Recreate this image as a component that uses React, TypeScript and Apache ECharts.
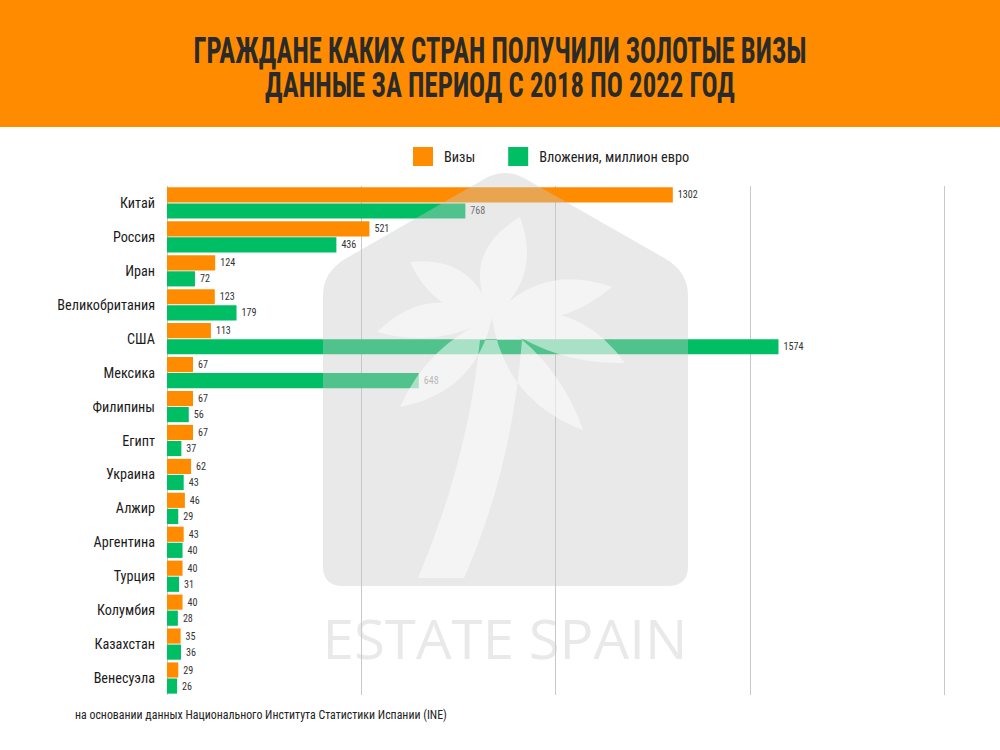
import React, { useEffect, useRef } from "react";
import * as echarts from "echarts";

const countries = [
  "Китай", "Россия", "Иран", "Великобритания", "США", "Мексика", "Филипины", "Египт",
  "Украина", "Алжир", "Аргентина", "Турция", "Колумбия", "Казахстан", "Венесуэла",
];
const visas = [1302, 521, 124, 123, 113, 67, 67, 67, 62, 46, 43, 40, 40, 35, 29];
const investment = [768, 436, 72, 179, 1574, 648, 56, 37, 43, 29, 40, 31, 28, 36, 26];
const seriesNames = ["Визы", "Вложения, миллион евро"];
const titleLines = [
  "ГРАЖДАНЕ КАКИХ СТРАН ПОЛУЧИЛИ ЗОЛОТЫЕ ВИЗЫ",
  "ДАННЫЕ ЗА ПЕРИОД С 2018 ПО 2022 ГОД",
];
const sourceNote = "на основании данных Национального Института Статистики Испании (INE)";
const watermarkText = "ESTATE SPAIN";
const xMin = 0;
const xMax = 2000;
const xStep = 500;

const ORANGE = "#FF8C00";
const GREEN = "#00BE64";

function measure(text: string, font: string): number {
  const c = document.createElement("canvas").getContext("2d")!;
  c.font = font;
  return c.measureText(text).width;
}

function hasFont(name: string): boolean {
  const probe = "Великобритания Wmwi 1302";
  for (const base of ["monospace", "serif"]) {
    if (Math.abs(measure(probe, `40px '${name}', ${base}`) - measure(probe, `40px ${base}`)) > 0.5) return true;
  }
  return false;
}

function pickCondensed(): string {
  const candidates = [
    "Roboto Condensed", "Liberation Sans Narrow", "DejaVu Sans Condensed",
    "Noto Sans Condensed", "Open Sans Condensed", "Arial Narrow",
  ];
  for (const c of candidates) if (hasFont(c)) return `'${c}', Roboto, sans-serif`;
  return "Roboto, 'Noto Sans', sans-serif";
}

function fitSize(text: string, family: string, target: number, maxSize: number, minSize: number): number {
  const w = measure(text, `100px ${family}`);
  const s = (100 * target) / w;
  return Math.max(minSize, Math.min(maxSize, Math.round(s * 10) / 10));
}

function leaf(bx: number, by: number, tx: number, ty: number, w: number, bend: number): string {
  const dx = tx - bx, dy = ty - by;
  const len = Math.hypot(dx, dy);
  const nx = -dy / len, ny = dx / len;
  const mx = bx + dx * 0.5, my = by + dy * 0.5;
  const c1x = mx + nx * (w + bend), c1y = my + ny * (w + bend);
  const c2x = mx + nx * (-w + bend), c2y = my + ny * (-w + bend);
  return `M ${bx} ${by} Q ${c1x} ${c1y} ${tx} ${ty} Q ${c2x} ${c2y} ${bx} ${by} Z `;
}

const housePath =
  "M 323 296 L 323 566 Q 323 586 343 586 L 668 586 Q 688 586 688 566 L 688 296 Q 688 272 666 259 L 524 178 Q 505 168 486 178 L 345 259 Q 323 272 323 296 Z";

const palmPath =
  leaf(492, 318, 520, 217, 44, -6) +
  leaf(492, 318, 410, 262, 36, 6) +
  leaf(492, 318, 612, 287, 36, -6) +
  leaf(492, 318, 377, 332, 34, 10) +
  leaf(492, 318, 625, 363, 38, -12) +
  leaf(492, 318, 400, 407, 34, -8) +
  leaf(492, 318, 583, 430, 34, 8) +
  "M 480 340 L 522 340 Q 512 470 464 578 L 418 578 Q 468 460 480 340 Z";

let registered = false;
function registerShapes() {
  if (registered) return;
  registered = true;
  echarts.graphic.registerShape("house", echarts.graphic.extendPath(housePath, {}) as any);
  echarts.graphic.registerShape("palm", echarts.graphic.extendPath(palmPath, {}) as any);
}

export default function App() {
  const ref = useRef<HTMLDivElement>(null);

  useEffect(() => {
    if (!ref.current) return;
    registerShapes();
    const chart = echarts.init(ref.current, null, { renderer: "svg" });

    const COND = pickCondensed();
    const axisSize = fitSize("Великобритания", COND, 98, 17, 12);
    const legendSize = fitSize(seriesNames[1], COND, 150, 16, 11);
    const valueSize = fitSize("1302", COND, 20, 11.5, 9.5);

    const titleFont = `bold 36px ${COND}`;
    const t1Scale = 613 / measure(titleLines[0], titleFont);
    const t2Scale = 470 / measure(titleLines[1], titleFont);
    const wmFont = `400 54px 'Open Sans', sans-serif`;
    const wmScale = 365 / measure(watermarkText, wmFont);
    const noteFont = `13px ${COND}`;
    const noteScale = 372 / measure(sourceNote, noteFont);

    const labelStyle = {
      show: true,
      position: "right" as const,
      distance: 5,
      fontSize: valueSize,
      color: "#333",
      fontFamily: COND,
    };

    chart.setOption({
      animation: false,
      backgroundColor: "#fff",
      legend: {
        left: 413,
        top: 147,
        padding: 0,
        itemWidth: 20,
        itemHeight: 19,
        itemGap: 33,
        icon: "rect",
        data: seriesNames,
        textStyle: { fontFamily: COND, fontSize: legendSize, color: "#222", padding: [0, 0, 0, 6] },
      },
      grid: { left: 167, right: 56, top: 186, height: 509, containLabel: false },
      xAxis: {
        type: "value",
        min: xMin,
        max: xMax,
        interval: xStep,
        axisLabel: { show: false },
        axisLine: { show: false },
        axisTick: { show: false },
        splitLine: { show: true, lineStyle: { color: "#c8c8c8", width: 1 } },
      },
      yAxis: {
        type: "category",
        data: countries,
        inverse: true,
        axisLine: { show: false },
        axisTick: { show: false },
        axisLabel: { fontFamily: COND, fontSize: axisSize, color: "#1a1a1a", margin: 12 },
      },
      series: [
        {
          name: seriesNames[0],
          type: "bar",
          data: visas,
          itemStyle: { color: ORANGE },
          barCategoryGap: "8%",
          barGap: "6%",
          label: labelStyle,
        },
        {
          name: seriesNames[1],
          type: "bar",
          data: investment,
          itemStyle: { color: GREEN },
          barCategoryGap: "8%",
          barGap: "6%",
          label: labelStyle,
        },
      ],
      graphic: [
        { type: "rect", shape: { x: 0, y: 0, width: 1000, height: 127 }, style: { fill: ORANGE }, z: 1 },
        {
          type: "text", x: 500, y: 51, scaleX: t1Scale, z: 2,
          style: { text: titleLines[0], font: titleFont, fill: "#2a2a2a", align: "center", verticalAlign: "middle", textAlign: "center", textVerticalAlign: "middle" } as any,
        },
        {
          type: "text", x: 500, y: 85, scaleX: t2Scale, z: 2,
          style: { text: titleLines[1], font: titleFont, fill: "#2a2a2a", align: "center", verticalAlign: "middle", textAlign: "center", textVerticalAlign: "middle" } as any,
        },
        { type: "house", x: 0, y: 0, z: 50, style: { fill: "rgba(200,200,200,0.4)" } } as any,
        { type: "palm", x: 0, y: 0, z: 51, style: { fill: "rgba(255,255,255,0.5)" } } as any,
        {
          type: "text", x: 505, y: 638, scaleX: wmScale, z: 52,
          style: { text: watermarkText, font: wmFont, fill: "rgba(200,200,200,0.4)", align: "center", verticalAlign: "middle", textAlign: "center", textVerticalAlign: "middle" } as any,
        },
        {
          type: "text", x: 75, y: 714, scaleX: noteScale, z: 2,
          style: { text: sourceNote, font: noteFont, fill: "#222", align: "left", verticalAlign: "middle", textAlign: "left", textVerticalAlign: "middle" } as any,
        },
      ],
    });

    return () => chart.dispose();
  }, []);

  return (
    <div
      ref={ref}
      style={{ position: "absolute", left: 0, top: 0, width: 1000, height: 750, background: "#fff" }}
    />
  );
}
